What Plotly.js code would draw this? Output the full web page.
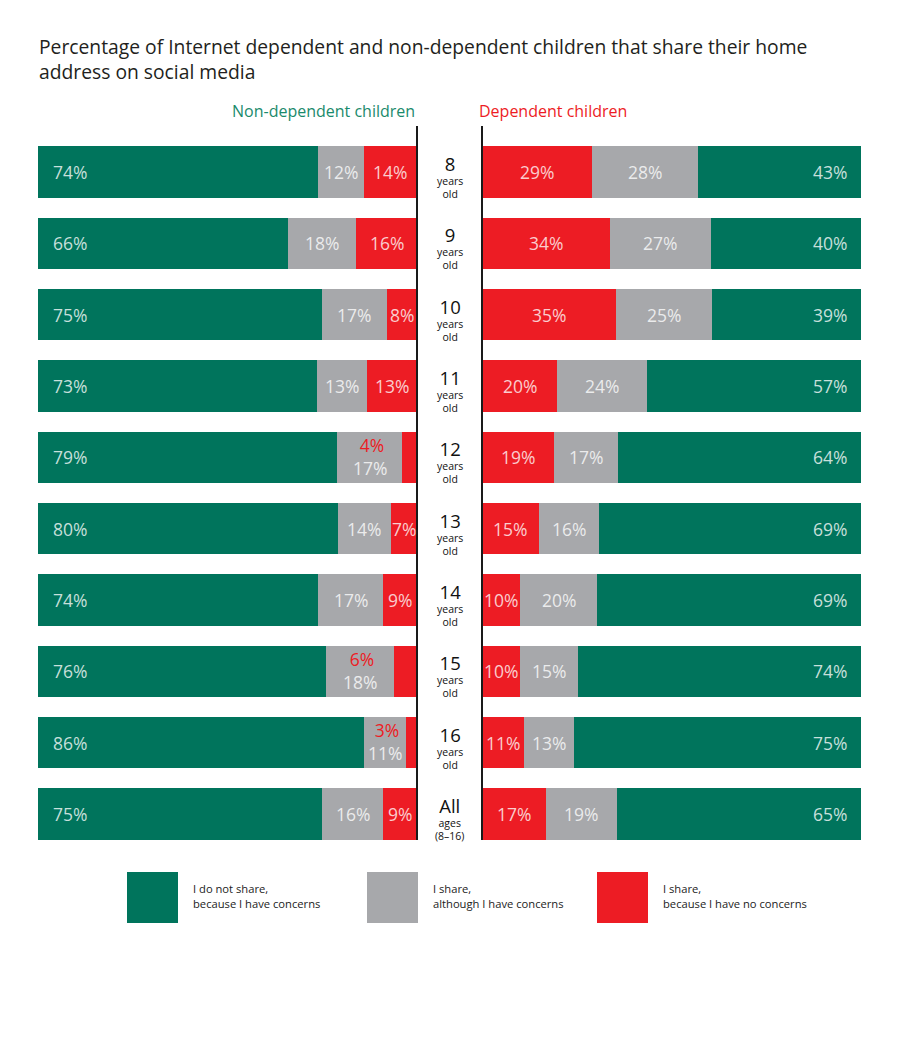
<!DOCTYPE html>
<html>
<head>
<meta charset="utf-8">
<script src="https://cdn.plot.ly/plotly-3.0.1.min.js"></script>
<style>html,body{margin:0;padding:0;background:#fff;}#chart{width:900px;height:1040px;}</style>
</head>
<body>
<div id="chart"></div>
<script>
// ---- data ----
const ages = ['8', '9', '10', '11', '12', '13', '14', '15', '16', 'All'];
const ageLine1 = ['8', '9', '10', '11', '12', '13', '14', '15', '16', 'All'];
const ageLine2 = ['years', 'years', 'years', 'years', 'years', 'years', 'years', 'years', 'years', 'ages'];
const ageLine3 = ['old', 'old', 'old', 'old', 'old', 'old', 'old', 'old', 'old', '(8–16)'];

// Non-dependent children
const nonDepNotShare = [74, 66, 75, 73, 79, 80, 74, 76, 86, 75];
const nonDepShareConcern = [12, 18, 17, 13, 17, 14, 17, 18, 11, 16];
const nonDepShareNoConcern = [14, 16, 8, 13, 4, 7, 9, 6, 3, 9];

// Dependent children
const depShareNoConcern = [29, 34, 35, 20, 19, 15, 10, 10, 11, 17];
const depShareConcern = [28, 27, 25, 24, 17, 16, 20, 15, 13, 19];
const depNotShare = [43, 40, 39, 57, 64, 69, 69, 74, 75, 65];

const seriesNames = ['I do not share,<br>because I have concerns', 'I share,<br>although I have concerns', 'I share,<br>because I have no concerns'];
const panelTitles = ['Non-dependent children', 'Dependent children'];
const titleText = 'Percentage of Internet dependent and non-dependent children that share their home<br>address on social media';

// ---- styles ----
const GREEN = '#00745c', GRAY = '#a7a8ab', RED = '#ed1c24';
const FONT = '"Open Sans", Lato, sans-serif';
const W = 900, H = 1040;
const px = v => v / W, py = v => 1 - v / H;
const labelColor = 'rgba(255,255,255,0.78)';
const barW = 0.72;

// rows are drawn as shares of their own (rounded) total so every row fills its panel
const yIdx = ages.map((a, i) => i);
const share = (arr, a, b, c) => arr.map((v, i) => v * 100 / (a[i] + b[i] + c[i]));
const L = [nonDepNotShare, nonDepShareConcern, nonDepShareNoConcern].map(s => share(s, nonDepNotShare, nonDepShareConcern, nonDepShareNoConcern));
const R = [depShareNoConcern, depShareConcern, depNotShare].map(s => share(s, depShareNoConcern, depShareConcern, depNotShare));

const mk = (x, color, xa) => ({type: 'bar', orientation: 'h', y: yIdx, x: x, marker: {color: color, line: {width: 0}}, xaxis: xa, yaxis: 'y', width: barW, hoverinfo: 'none'});
const traces = [
  mk(L[0], GREEN, 'x'), mk(L[1], GRAY, 'x'), mk(L[2], RED, 'x'),
  mk(R[0], RED, 'x2'), mk(R[1], GRAY, 'x2'), mk(R[2], GREEN, 'x2')
];

const ann = [];
const lblFont = {family: FONT, size: 17.5, color: labelColor};
const A = (o) => Object.assign({showarrow: false, yanchor: 'middle'}, o);
ages.forEach((a, i) => {
  // left panel
  const g = L[0][i], s = L[1][i], r = L[2][i];
  ann.push(A({xref: 'x', yref: 'y', x: 0, y: i, xanchor: 'left', xshift: 13, text: nonDepNotShare[i] + '%', font: lblFont}));
  if (nonDepShareNoConcern[i] < 7) {
    ann.push(A({xref: 'x', yref: 'y', x: g + s / 2, y: i, yshift: 1,
      text: '<span style="color:' + RED + ';fill-opacity:1">&#8202;&#8202;' + nonDepShareNoConcern[i] + '%</span><br>' + nonDepShareConcern[i] + '%',
      font: {family: FONT, size: 17.5, color: '#ebebec'}}));
  } else {
    ann.push(A({xref: 'x', yref: 'y', x: g + s / 2, y: i, text: nonDepShareConcern[i] + '%', font: lblFont}));
    ann.push(A({xref: 'x', yref: 'y', x: g + s + r / 2, y: i, text: nonDepShareNoConcern[i] + '%', font: lblFont}));
  }
  // right panel
  const r2 = R[0][i], s2 = R[1][i];
  ann.push(A({xref: 'x2', yref: 'y', x: r2 / 2, y: i, text: depShareNoConcern[i] + '%', font: lblFont}));
  ann.push(A({xref: 'x2', yref: 'y', x: r2 + s2 / 2, y: i, text: depShareConcern[i] + '%', font: lblFont}));
  ann.push(A({xref: 'x2', yref: 'y', x: 100, y: i, xanchor: 'right', xshift: -12, text: depNotShare[i] + '%', font: lblFont}));
  // centre labels
  ann.push(A({xref: 'paper', yref: 'y', x: px(449.5), y: i, xanchor: 'center', yshift: -4,
    text: '<span style="font-size:18.5px">' + ageLine1[i] + '</span><br>' + ageLine2[i] + '<br>' + ageLine3[i],
    font: {family: FONT, size: 10.5, color: '#111'}}));
});

// title
ann.push(A({xref: 'paper', yref: 'paper', x: px(37), y: py(59), xanchor: 'left', align: 'left', text: titleText, font: {family: FONT, size: 19.3, color: '#231f20'}}));

// panel headers
ann.push(A({xref: 'paper', yref: 'paper', x: px(417), y: py(111), xanchor: 'right', text: panelTitles[0], font: {family: FONT, size: 16, color: '#1a8a6c'}}));
ann.push(A({xref: 'paper', yref: 'paper', x: px(477), y: py(111), xanchor: 'left', text: panelTitles[1], font: {family: FONT, size: 16, color: RED}}));

// legend
const legendColors = [GREEN, GRAY, RED];
const legendX = [127, 367, 597];
const shapes = [];
legendColors.forEach((c, i) => {
  shapes.push({type: 'rect', xref: 'paper', yref: 'paper', x0: px(legendX[i]), x1: px(legendX[i] + 51), y0: py(923), y1: py(872), fillcolor: c, line: {width: 0}});
  ann.push(A({xref: 'paper', yref: 'paper', x: px(legendX[i] + 64), y: py(896), xanchor: 'left', align: 'left', text: seriesNames[i], font: {family: FONT, size: 11.2, color: '#222'}}));
});

// divider lines
[417, 482].forEach(x => {
  shapes.push({type: 'line', xref: 'paper', yref: 'paper', x0: px(x), x1: px(x), y0: py(126), y1: py(840), line: {color: '#1a1a1a', width: 2}, layer: 'above'});
});

const layout = {
  width: W, height: H,
  margin: {l: 0, r: 0, t: 0, b: 0},
  paper_bgcolor: '#ffffff', plot_bgcolor: 'rgba(0,0,0,0)',
  barmode: 'stack',
  showlegend: false,
  xaxis: {domain: [px(38), px(417)], range: [0, 100], visible: false, fixedrange: true},
  xaxis2: {domain: [px(482), px(861)], range: [0, 100], visible: false, fixedrange: true, anchor: 'y'},
  yaxis: {domain: [py(849.7), py(136.3)], range: [9.5, -0.5], visible: false, fixedrange: true},
  annotations: ann,
  shapes: shapes,
  font: {family: FONT}
};

Plotly.newPlot('chart', traces, layout, {displayModeBar: false, staticPlot: true});
</script>
</body>
</html>
